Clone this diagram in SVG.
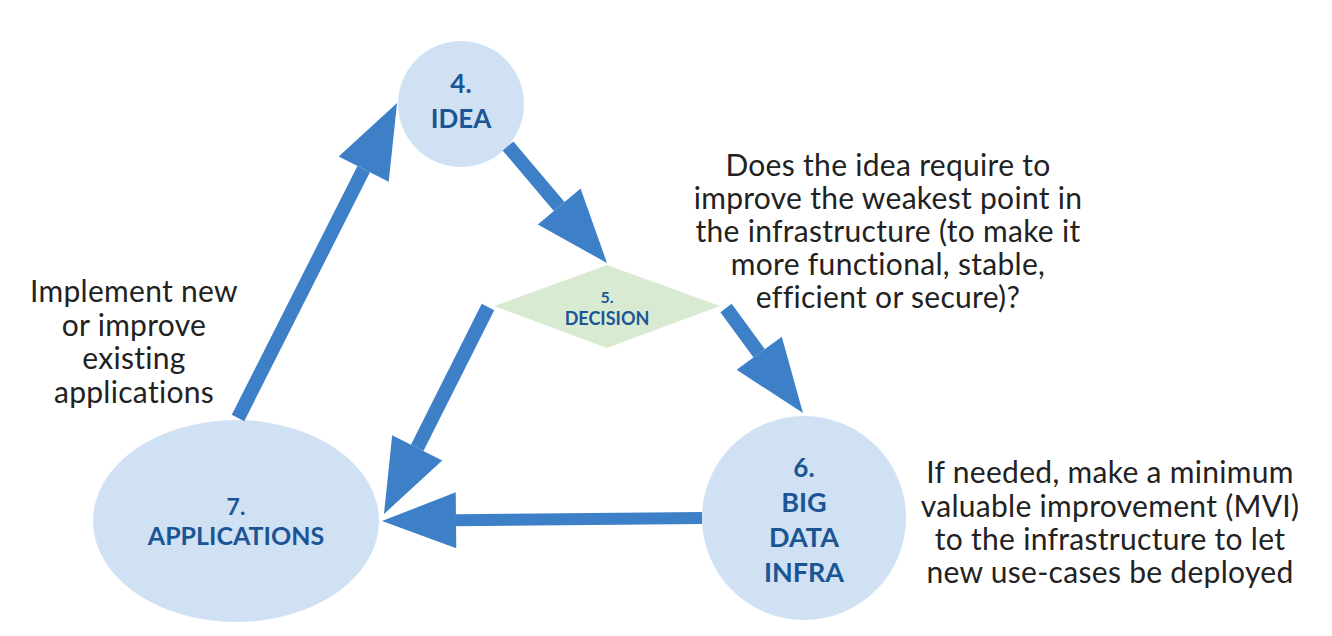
<svg xmlns="http://www.w3.org/2000/svg" width="1332" height="636" viewBox="0 0 1332 636">
  <style>
    .node { fill: #cfe1f3; }
    .dec { fill: #d9ead3; }
    .lbl { font-family: "Lato", "Liberation Sans", sans-serif; font-weight: bold; fill: #1b5594; text-anchor: middle; }
    .txt { font-family: "Lato", "Liberation Sans", sans-serif; font-weight: 400; font-size: 30px; letter-spacing: 0.3px; fill: #222222; text-anchor: middle; }
    .conn { stroke: #3d80c8; stroke-width: 14; fill: none; marker-end: url(#head); }
  </style>
  <defs>
    <marker id="head" markerUnits="userSpaceOnUse" markerWidth="76" markerHeight="58" refX="0" refY="28" orient="auto" viewBox="0 0 76 58" overflow="visible">
      <path d="M0,0 L74,28 L0,56 Z" fill="#3d80c8"/>
    </marker>
  </defs>
  <rect width="1332" height="636" fill="#ffffff"/>

  <g id="n-idea">
    <circle class="node" cx="461" cy="104" r="63"/>
    <text class="lbl" x="461" y="93" font-size="26">4.</text>
    <text class="lbl" x="461" y="128" font-size="26">IDEA</text>
  </g>

  <g id="n-decision">
    <polygon class="dec" points="494,306 607,265 720,306 607,348"/>
    <text class="lbl" x="607" y="303" font-size="16">5.</text>
    <text class="lbl" x="607" y="325" font-size="18">DECISION</text>
  </g>

  <g id="n-infra">
    <circle class="node" cx="804" cy="518" r="102"/>
    <text class="lbl" x="804" y="477" font-size="26">6.</text>
    <text class="lbl" x="804" y="512" font-size="27">BIG</text>
    <text class="lbl" x="804" y="547" font-size="27">DATA</text>
    <text class="lbl" x="804" y="582" font-size="27">INFRA</text>
  </g>

  <g id="n-applications">
    <ellipse class="node" cx="236" cy="521" rx="143" ry="101"/>
    <text class="lbl" x="236" y="515" font-size="23">7.</text>
    <text class="lbl" x="236" y="545" font-size="25">APPLICATIONS</text>
  </g>

  <g id="connectors">
    <line class="conn" x1="238" y1="418" x2="363.7" y2="169.1"/>
    <line class="conn" x1="508" y1="146" x2="559.2" y2="206.5"/>
    <line class="conn" x1="726" y1="308" x2="759.2" y2="353.3"/>
    <line class="conn" x1="488" y1="307" x2="417.2" y2="447.9"/>
    <line class="conn" x1="702" y1="518" x2="456" y2="520.3" style="stroke-width:12"/>
  </g>

  <g id="annotations">
    <text class="txt" x="888" y="176">Does the idea require to</text>
    <text class="txt" x="888" y="209">improve the weakest point in</text>
    <text class="txt" x="888" y="242">the infrastructure (to make it</text>
    <text class="txt" x="888" y="275">more functional, stable,</text>
    <text class="txt" x="888" y="308">efficient or secure)?</text>

    <text class="txt" x="1110" y="483">If needed, make a minimum</text>
    <text class="txt" x="1110" y="517">valuable improvement (MVI)</text>
    <text class="txt" x="1110" y="550">to the infrastructure to let</text>
    <text class="txt" x="1110" y="583">new use-cases be deployed</text>

    <text class="txt" x="134" y="302">Implement new</text>
    <text class="txt" x="134" y="336">or improve</text>
    <text class="txt" x="134" y="369">existing</text>
    <text class="txt" x="134" y="403">applications</text>
  </g>
</svg>
